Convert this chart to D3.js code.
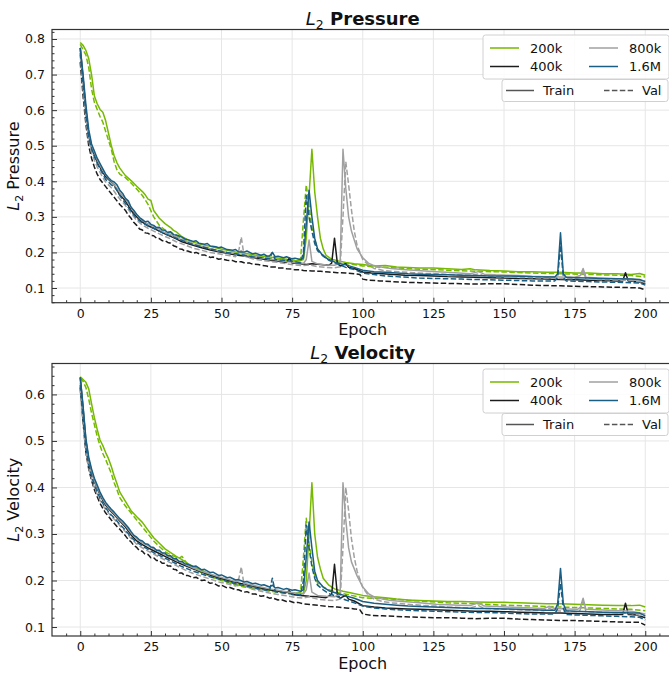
<!DOCTYPE html>
<html><head><meta charset="utf-8">
<script src="https://cdn.jsdelivr.net/npm/d3@7/dist/d3.min.js"></script>
<style>body{margin:0;background:#fff}svg{display:block;font-family:"DejaVu Sans",sans-serif}</style>
</head><body><svg id="c" width="669" height="675"></svg>
<script>
// ---------- DATA (epoch, value) ----------
const sizes = ["200k","400k","800k","1.6M"];
const splits = ["Train","Val"];
const xTicks = [0,25,50,75,100,125,150,175,200];
const pTicks = [0.1,0.2,0.3,0.4,0.5,0.6,0.7,0.8];
const vTicks = [0.1,0.2,0.3,0.4,0.5,0.6];

const p200kTrain = [[0,0.79],[1,0.782],[2,0.768],[3,0.745],[4,0.70],[5,0.64],[6,0.618],[7,0.602],[8,0.594],[9,0.57],[10,0.535],[11,0.50],[12,0.472],[13,0.452],[14,0.437],[16,0.416],[18,0.402],[20,0.386],[22,0.371],[23,0.362],[24,0.35],[25,0.346],[26,0.318],[28,0.296],[30,0.281],[32,0.27],[33,0.262],[34,0.258],[36,0.244],[38,0.236],[40,0.229],[43,0.222],[46,0.217],[49,0.211],[52,0.206],[55,0.201],[58,0.198],[61,0.194],[64,0.19],[67,0.187],[70,0.184],[73,0.181],[76,0.178],[78,0.177],[79,0.18],[80,0.24],[81,0.36],[82,0.49],[83,0.37],[84,0.30],[85,0.24],[86,0.21],[87,0.192],[89,0.181],[91,0.177],[94,0.172],[97,0.168],[100,0.166],[104,0.162],[108,0.163],[112,0.159],[116,0.158],[120,0.156],[125,0.156],[130,0.154],[135,0.152],[138,0.154],[140,0.151],[145,0.149],[150,0.148],[155,0.146],[160,0.146],[165,0.144],[170,0.144],[175,0.142],[180,0.142],[185,0.14],[190,0.14],[195,0.138],[198,0.141],[200,0.136]];
const p200kVal = [[0,0.785],[1,0.77],[2,0.755],[3,0.72],[4,0.66],[5,0.622],[6,0.602],[7,0.582],[8,0.566],[9,0.54],[10,0.515],[11,0.49],[12,0.455],[13,0.432],[14,0.42],[16,0.41],[18,0.395],[20,0.378],[22,0.36],[24,0.335],[26,0.30],[28,0.276],[30,0.263],[32,0.256],[34,0.248],[36,0.238],[38,0.23],[40,0.222],[43,0.215],[46,0.21],[49,0.205],[52,0.2],[55,0.196],[58,0.192],[61,0.19],[64,0.186],[67,0.183],[70,0.18],[73,0.177],[76,0.175],[78,0.182],[79,0.29],[80,0.39],[81,0.33],[82,0.27],[83,0.235],[84,0.21],[85,0.2],[87,0.185],[89,0.176],[92,0.172],[95,0.168],[100,0.162],[105,0.159],[110,0.157],[115,0.155],[120,0.153],[130,0.15],[140,0.147],[150,0.145],[160,0.142],[170,0.14],[180,0.138],[190,0.136],[195,0.135],[200,0.131]];
const p400kTrain = [[0,0.775],[1,0.69],[2,0.60],[3,0.53],[4,0.495],[5,0.475],[6,0.455],[7,0.44],[8,0.425],[9,0.413],[10,0.405],[11,0.398],[12,0.39],[13,0.375],[14,0.362],[16,0.345],[18,0.318],[20,0.30],[22,0.285],[24,0.275],[26,0.268],[28,0.26],[30,0.252],[32,0.245],[34,0.238],[36,0.23],[38,0.225],[40,0.22],[43,0.213],[46,0.207],[49,0.202],[52,0.198],[55,0.193],[58,0.19],[61,0.186],[64,0.182],[67,0.178],[70,0.175],[73,0.172],[74,0.184],[75,0.17],[78,0.168],[80,0.166],[82,0.168],[85,0.166],[88,0.164],[89,0.17],[90,0.24],[91,0.17],[92,0.162],[94,0.168],[95,0.158],[97,0.155],[100,0.145],[103,0.142],[107,0.14],[111,0.138],[115,0.136],[120,0.135],[125,0.134],[130,0.132],[135,0.131],[140,0.13],[145,0.129],[150,0.128],[155,0.127],[160,0.126],[165,0.125],[170,0.124],[175,0.123],[180,0.122],[185,0.121],[190,0.12],[192,0.12],[193,0.143],[194,0.12],[197,0.118],[200,0.112]];
const p400kVal = [[0,0.735],[1,0.64],[2,0.56],[3,0.50],[4,0.465],[5,0.44],[6,0.42],[7,0.405],[8,0.395],[9,0.385],[10,0.375],[11,0.365],[12,0.355],[13,0.345],[14,0.335],[16,0.318],[17,0.305],[18,0.296],[19,0.284],[20,0.276],[21,0.266],[22,0.263],[23,0.255],[24,0.254],[25,0.248],[26,0.247],[27,0.24],[28,0.239],[29,0.233],[30,0.233],[31,0.228],[32,0.226],[33,0.219],[34,0.216],[35,0.21],[36,0.209],[37,0.204],[38,0.204],[40,0.198],[41,0.2],[43,0.193],[44,0.193],[46,0.186],[47,0.187],[49,0.181],[50,0.182],[52,0.178],[54,0.177],[55,0.174],[57,0.174],[58,0.171],[60,0.17],[61,0.167],[63,0.166],[64,0.164],[66,0.162],[67,0.159],[69,0.159],[70,0.156],[72,0.156],[73,0.154],[75,0.153],[76,0.151],[78,0.151],[79,0.149],[82,0.148],[85,0.147],[88,0.145],[91,0.143],[94,0.142],[97,0.14],[99,0.138],[100,0.125],[102,0.122],[106,0.12],[110,0.118],[115,0.116],[120,0.115],[125,0.114],[130,0.113],[135,0.112],[140,0.111],[145,0.112],[150,0.112],[155,0.11],[160,0.108],[165,0.107],[170,0.106],[175,0.105],[180,0.104],[185,0.103],[190,0.102],[195,0.101],[198,0.1],[200,0.095]];
const p800kTrain = [[0,0.77],[1,0.685],[2,0.60],[3,0.535],[4,0.50],[5,0.48],[6,0.46],[7,0.445],[8,0.43],[9,0.418],[10,0.408],[11,0.40],[12,0.39],[13,0.38],[14,0.368],[16,0.35],[17,0.338],[18,0.327],[19,0.315],[20,0.306],[21,0.296],[22,0.291],[23,0.284],[24,0.281],[25,0.276],[26,0.274],[27,0.268],[28,0.266],[29,0.259],[30,0.256],[31,0.253],[32,0.251],[33,0.245],[34,0.244],[35,0.238],[36,0.237],[38,0.229],[39,0.231],[40,0.223],[42,0.22],[43,0.217],[45,0.214],[46,0.21],[48,0.207],[49,0.204],[51,0.202],[52,0.199],[54,0.198],[55,0.195],[56,0.198],[57,0.205],[58,0.192],[60,0.19],[61,0.187],[63,0.187],[64,0.184],[66,0.183],[67,0.18],[69,0.18],[70,0.177],[72,0.176],[73,0.174],[75,0.173],[76,0.171],[78,0.171],[79,0.169],[80,0.18],[81,0.235],[82,0.175],[84,0.168],[87,0.165],[90,0.164],[92,0.17],[93,0.49],[94,0.38],[95,0.30],[96,0.26],[97,0.235],[98,0.21],[100,0.185],[102,0.17],[104,0.163],[107,0.158],[110,0.155],[114,0.152],[118,0.15],[122,0.148],[126,0.146],[130,0.144],[134,0.142],[138,0.14],[141,0.146],[143,0.139],[147,0.137],[151,0.136],[155,0.135],[160,0.133],[165,0.132],[170,0.131],[175,0.13],[177,0.135],[178,0.155],[179,0.13],[183,0.128],[187,0.127],[191,0.126],[195,0.125],[200,0.12]];
const p800kVal = [[0,0.755],[1,0.66],[2,0.575],[3,0.515],[4,0.48],[5,0.46],[6,0.44],[7,0.425],[8,0.41],[9,0.398],[10,0.39],[11,0.382],[12,0.372],[13,0.36],[14,0.35],[16,0.332],[18,0.31],[20,0.29],[22,0.277],[24,0.268],[26,0.26],[28,0.252],[30,0.245],[32,0.238],[34,0.23],[36,0.224],[38,0.218],[40,0.212],[43,0.206],[46,0.2],[49,0.196],[52,0.192],[55,0.188],[56,0.2],[57,0.243],[58,0.19],[61,0.182],[64,0.178],[67,0.175],[70,0.172],[73,0.168],[76,0.165],[79,0.163],[81,0.165],[84,0.16],[87,0.158],[90,0.157],[92,0.16],[93,0.3],[94,0.455],[95,0.39],[96,0.32],[97,0.26],[98,0.22],[100,0.18],[102,0.165],[104,0.155],[107,0.15],[110,0.147],[114,0.145],[118,0.143],[122,0.141],[126,0.14],[130,0.138],[134,0.137],[138,0.135],[141,0.14],[143,0.134],[147,0.132],[151,0.131],[155,0.13],[160,0.129],[165,0.128],[170,0.127],[175,0.126],[177,0.13],[178,0.148],[179,0.126],[183,0.124],[187,0.123],[191,0.122],[195,0.121],[200,0.115]];
const p16MTrain = [[0,0.775],[1,0.70],[2,0.615],[3,0.545],[4,0.505],[5,0.485],[6,0.465],[7,0.45],[8,0.435],[9,0.42],[10,0.41],[11,0.402],[12,0.398],[13,0.39],[14,0.375],[15,0.366],[16,0.352],[17,0.345],[18,0.327],[19,0.318],[20,0.307],[21,0.298],[22,0.292],[23,0.286],[24,0.288],[25,0.279],[26,0.276],[27,0.27],[28,0.271],[29,0.263],[30,0.262],[31,0.256],[32,0.258],[33,0.25],[34,0.249],[35,0.246],[36,0.243],[37,0.238],[38,0.236],[40,0.231],[41,0.233],[42,0.226],[44,0.223],[45,0.225],[46,0.218],[48,0.216],[49,0.213],[50,0.215],[52,0.208],[54,0.206],[55,0.208],[56,0.202],[58,0.201],[59,0.204],[61,0.196],[62,0.198],[64,0.192],[65,0.195],[66,0.19],[67,0.19],[68,0.2],[69,0.188],[70,0.189],[72,0.185],[73,0.188],[75,0.182],[76,0.184],[78,0.18],[79,0.185],[80,0.28],[81,0.375],[82,0.30],[83,0.24],[84,0.21],[86,0.19],[88,0.18],[91,0.17],[94,0.165],[97,0.158],[100,0.15],[104,0.146],[108,0.144],[112,0.142],[116,0.14],[120,0.139],[125,0.138],[130,0.137],[135,0.136],[140,0.135],[145,0.134],[150,0.134],[155,0.133],[160,0.132],[165,0.131],[168,0.131],[169,0.14],[170,0.255],[171,0.14],[172,0.13],[175,0.129],[180,0.128],[185,0.127],[190,0.126],[195,0.125],[198,0.124],[200,0.118]];
const p16MVal = [[0,0.76],[1,0.675],[2,0.59],[3,0.525],[4,0.49],[5,0.47],[6,0.45],[7,0.435],[8,0.42],[9,0.405],[10,0.398],[11,0.39],[12,0.385],[13,0.375],[14,0.36],[16,0.338],[18,0.315],[20,0.295],[22,0.283],[24,0.275],[26,0.268],[28,0.26],[30,0.252],[32,0.246],[34,0.24],[36,0.234],[38,0.228],[40,0.222],[43,0.216],[46,0.21],[49,0.205],[52,0.2],[55,0.196],[58,0.192],[61,0.188],[64,0.185],[67,0.182],[68,0.2],[69,0.18],[72,0.178],[75,0.175],[78,0.172],[79,0.2],[80,0.36],[81,0.3],[82,0.26],[83,0.225],[84,0.205],[86,0.19],[88,0.178],[91,0.168],[94,0.158],[97,0.152],[100,0.142],[104,0.138],[108,0.134],[112,0.132],[116,0.13],[120,0.128],[125,0.127],[130,0.126],[135,0.125],[140,0.124],[145,0.123],[150,0.122],[155,0.121],[160,0.12],[165,0.12],[168,0.12],[169,0.13],[170,0.22],[171,0.13],[172,0.12],[175,0.119],[180,0.118],[185,0.117],[190,0.116],[195,0.115],[198,0.114],[200,0.108]];

const v200kTrain = [[0,0.638],[1,0.632],[2,0.626],[3,0.612],[4,0.58],[5,0.55],[6,0.525],[7,0.502],[8,0.49],[9,0.475],[10,0.462],[11,0.445],[12,0.425],[13,0.408],[14,0.39],[16,0.37],[18,0.35],[20,0.337],[22,0.325],[24,0.308],[26,0.292],[28,0.28],[30,0.268],[32,0.26],[34,0.252],[36,0.245],[38,0.237],[40,0.23],[43,0.222],[46,0.213],[49,0.205],[52,0.199],[55,0.192],[58,0.188],[61,0.185],[64,0.182],[67,0.179],[70,0.177],[73,0.175],[76,0.173],[79,0.172],[80,0.2],[81,0.3],[82,0.41],[83,0.3],[84,0.25],[85,0.225],[86,0.205],[88,0.19],[90,0.182],[93,0.177],[96,0.173],[100,0.168],[104,0.165],[108,0.163],[112,0.16],[116,0.158],[120,0.157],[125,0.156],[130,0.155],[135,0.155],[140,0.154],[145,0.153],[150,0.153],[155,0.152],[160,0.151],[165,0.15],[170,0.15],[175,0.149],[180,0.148],[185,0.147],[190,0.146],[195,0.146],[198,0.147],[200,0.143]];
const v200kVal = [[0,0.636],[1,0.628],[2,0.615],[3,0.59],[4,0.56],[5,0.535],[6,0.51],[7,0.49],[8,0.473],[9,0.46],[10,0.445],[11,0.43],[12,0.41],[13,0.395],[14,0.378],[16,0.36],[18,0.345],[20,0.33],[22,0.315],[24,0.3],[26,0.285],[28,0.273],[30,0.262],[32,0.255],[34,0.25],[35,0.248],[36,0.252],[37,0.243],[38,0.235],[40,0.225],[43,0.217],[46,0.209],[49,0.202],[52,0.196],[55,0.19],[58,0.186],[61,0.183],[64,0.18],[67,0.177],[70,0.175],[73,0.173],[76,0.171],[78,0.175],[79,0.25],[80,0.334],[81,0.28],[82,0.24],[83,0.21],[84,0.195],[86,0.186],[88,0.18],[90,0.176],[93,0.172],[96,0.168],[100,0.163],[110,0.16],[120,0.156],[130,0.152],[140,0.15],[150,0.147],[160,0.145],[170,0.143],[180,0.141],[190,0.139],[195,0.138],[200,0.135]];
const v400kTrain = [[0,0.636],[1,0.57],[2,0.5],[3,0.46],[4,0.435],[5,0.415],[6,0.398],[7,0.385],[8,0.372],[9,0.362],[10,0.355],[11,0.348],[12,0.342],[13,0.335],[14,0.328],[16,0.315],[18,0.298],[20,0.285],[22,0.277],[24,0.27],[26,0.264],[28,0.258],[30,0.252],[32,0.246],[34,0.24],[36,0.235],[38,0.23],[40,0.225],[43,0.218],[46,0.212],[49,0.206],[52,0.201],[55,0.196],[58,0.192],[61,0.188],[64,0.184],[67,0.18],[70,0.177],[73,0.174],[74,0.178],[75,0.17],[78,0.168],[81,0.166],[84,0.165],[87,0.163],[89,0.17],[90,0.235],[91,0.17],[92,0.162],[94,0.168],[95,0.16],[97,0.156],[100,0.146],[104,0.143],[108,0.141],[112,0.14],[116,0.139],[120,0.138],[125,0.137],[130,0.136],[135,0.135],[140,0.134],[145,0.134],[150,0.133],[155,0.132],[160,0.131],[165,0.13],[170,0.13],[175,0.129],[180,0.128],[185,0.127],[190,0.127],[192,0.127],[193,0.151],[194,0.127],[197,0.126],[200,0.12]];
const v400kVal = [[0,0.615],[1,0.54],[2,0.475],[3,0.44],[4,0.415],[5,0.395],[6,0.38],[7,0.366],[8,0.355],[9,0.345],[10,0.338],[11,0.33],[12,0.323],[13,0.316],[14,0.31],[16,0.296],[17,0.288],[18,0.283],[19,0.275],[20,0.271],[21,0.264],[22,0.263],[23,0.256],[24,0.256],[25,0.249],[26,0.249],[27,0.243],[28,0.243],[29,0.237],[30,0.237],[31,0.231],[32,0.231],[33,0.224],[34,0.223],[35,0.216],[36,0.216],[37,0.211],[38,0.211],[40,0.206],[41,0.207],[43,0.2],[44,0.201],[46,0.194],[47,0.195],[49,0.188],[50,0.19],[52,0.184],[53,0.185],[55,0.18],[56,0.18],[58,0.175],[59,0.176],[61,0.171],[62,0.171],[64,0.166],[65,0.167],[67,0.162],[68,0.163],[70,0.158],[71,0.159],[73,0.155],[74,0.156],[76,0.152],[77,0.153],[79,0.15],[82,0.148],[85,0.146],[88,0.144],[91,0.143],[94,0.141],[97,0.139],[99,0.137],[100,0.128],[103,0.125],[107,0.124],[111,0.123],[115,0.122],[120,0.121],[125,0.12],[130,0.12],[135,0.119],[140,0.118],[145,0.119],[150,0.119],[155,0.117],[160,0.116],[165,0.115],[170,0.114],[175,0.114],[180,0.113],[185,0.112],[190,0.111],[195,0.11],[198,0.11],[200,0.104]];
const v800kTrain = [[0,0.625],[1,0.56],[2,0.495],[3,0.458],[4,0.435],[5,0.415],[6,0.4],[7,0.387],[8,0.375],[9,0.365],[10,0.357],[11,0.35],[12,0.344],[13,0.337],[14,0.33],[16,0.318],[18,0.302],[20,0.29],[22,0.281],[24,0.275],[26,0.268],[28,0.262],[30,0.256],[32,0.25],[34,0.244],[36,0.238],[38,0.232],[40,0.227],[43,0.22],[46,0.214],[49,0.208],[52,0.203],[55,0.198],[57,0.2],[58,0.194],[61,0.19],[64,0.186],[67,0.182],[70,0.179],[73,0.176],[76,0.173],[79,0.171],[80,0.18],[81,0.216],[82,0.175],[84,0.168],[87,0.166],[90,0.165],[92,0.17],[93,0.41],[94,0.33],[95,0.27],[96,0.24],[97,0.225],[98,0.21],[100,0.186],[102,0.172],[104,0.165],[107,0.16],[110,0.157],[114,0.155],[118,0.153],[122,0.151],[126,0.149],[130,0.148],[134,0.147],[138,0.146],[141,0.152],[143,0.145],[147,0.144],[151,0.143],[155,0.142],[160,0.141],[164,0.14],[166,0.144],[168,0.14],[172,0.139],[176,0.138],[177,0.142],[178,0.162],[179,0.138],[183,0.137],[187,0.136],[191,0.135],[195,0.134],[200,0.128]];
const v800kVal = [[0,0.61],[1,0.54],[2,0.478],[3,0.442],[4,0.42],[5,0.4],[6,0.386],[7,0.373],[8,0.362],[9,0.352],[10,0.345],[11,0.338],[12,0.332],[13,0.325],[14,0.318],[16,0.305],[18,0.29],[20,0.278],[22,0.27],[24,0.263],[26,0.257],[28,0.25],[30,0.244],[32,0.238],[34,0.232],[36,0.226],[38,0.22],[40,0.215],[43,0.209],[46,0.203],[49,0.197],[52,0.193],[55,0.188],[56,0.2],[57,0.229],[58,0.19],[61,0.181],[64,0.177],[67,0.173],[70,0.17],[73,0.167],[76,0.164],[79,0.162],[81,0.165],[84,0.16],[87,0.158],[90,0.157],[92,0.16],[93,0.27],[94,0.40],[95,0.35],[96,0.29],[97,0.25],[98,0.22],[100,0.185],[102,0.168],[104,0.16],[107,0.155],[110,0.152],[114,0.15],[118,0.148],[122,0.146],[126,0.145],[130,0.143],[134,0.142],[138,0.141],[141,0.146],[143,0.14],[147,0.139],[151,0.138],[155,0.137],[160,0.136],[164,0.135],[166,0.14],[168,0.135],[172,0.134],[176,0.133],[177,0.137],[178,0.155],[179,0.133],[183,0.132],[187,0.131],[191,0.13],[195,0.129],[200,0.123]];
const v16MTrain = [[0,0.637],[1,0.575],[2,0.505],[3,0.465],[4,0.44],[5,0.42],[6,0.405],[7,0.39],[8,0.378],[9,0.368],[10,0.36],[11,0.353],[12,0.347],[13,0.34],[14,0.333],[15,0.328],[16,0.321],[17,0.314],[18,0.305],[19,0.297],[20,0.293],[21,0.287],[22,0.285],[23,0.279],[24,0.278],[25,0.272],[26,0.271],[27,0.265],[28,0.265],[29,0.259],[30,0.259],[31,0.253],[32,0.253],[33,0.247],[34,0.247],[35,0.241],[36,0.241],[37,0.236],[38,0.235],[40,0.23],[41,0.231],[43,0.223],[44,0.224],[46,0.217],[47,0.218],[49,0.211],[50,0.212],[52,0.206],[53,0.207],[55,0.201],[56,0.202],[58,0.197],[59,0.198],[61,0.193],[62,0.194],[64,0.19],[65,0.191],[67,0.186],[68,0.19],[69,0.184],[70,0.185],[72,0.181],[73,0.183],[75,0.179],[76,0.18],[78,0.177],[79,0.18],[80,0.25],[81,0.326],[82,0.27],[83,0.22],[84,0.2],[86,0.186],[88,0.178],[91,0.172],[94,0.167],[97,0.162],[100,0.155],[104,0.151],[108,0.149],[112,0.147],[116,0.145],[120,0.144],[125,0.143],[130,0.142],[135,0.141],[140,0.14],[145,0.14],[150,0.139],[155,0.138],[160,0.137],[165,0.136],[168,0.136],[169,0.15],[170,0.226],[171,0.15],[172,0.135],[175,0.134],[180,0.133],[185,0.132],[190,0.131],[195,0.13],[198,0.13],[200,0.124]];
const v16MVal = [[0,0.62],[1,0.55],[2,0.485],[3,0.45],[4,0.425],[5,0.405],[6,0.39],[7,0.377],[8,0.366],[9,0.356],[10,0.348],[11,0.341],[12,0.335],[13,0.328],[14,0.321],[16,0.308],[18,0.293],[20,0.282],[22,0.274],[24,0.267],[26,0.26],[28,0.254],[30,0.248],[32,0.242],[34,0.236],[36,0.23],[38,0.225],[40,0.22],[43,0.214],[46,0.208],[49,0.203],[52,0.198],[55,0.193],[58,0.189],[61,0.185],[64,0.181],[67,0.178],[68,0.205],[69,0.176],[72,0.173],[75,0.171],[78,0.169],[79,0.2],[80,0.319],[81,0.27],[82,0.23],[83,0.205],[84,0.19],[86,0.18],[88,0.172],[91,0.165],[94,0.158],[97,0.152],[100,0.145],[104,0.141],[108,0.139],[112,0.137],[116,0.136],[120,0.135],[125,0.134],[130,0.133],[135,0.132],[140,0.131],[145,0.131],[150,0.13],[155,0.129],[160,0.128],[165,0.128],[168,0.128],[169,0.14],[170,0.194],[171,0.14],[172,0.127],[175,0.126],[180,0.125],[185,0.124],[190,0.123],[195,0.122],[198,0.121],[200,0.115]];

// ---------- STYLE ----------
const colors = {"200k":"#76b900","400k":"#1c1c1c","800k":"#a0a0a0","1.6M":"#1b5e83"};
const svg = d3.select("#c");
const FONT = "DejaVu Sans";

function panel(cfg){
  const {top,bottom,yDomain,yTicks,series,title,ylabel,id} = cfg;
  const left = 52, right = 673.5;
  const x = d3.scaleLinear().domain([-10,210]).range([left,right]);
  const y = d3.scaleLinear().domain(yDomain).range([bottom,top]);
  const g = svg.append("g");
  g.append("clipPath").attr("id",id).append("rect")
    .attr("x",left).attr("y",top).attr("width",right-left).attr("height",bottom-top);
  const grid = g.append("g").attr("stroke","#e6e6e6").attr("stroke-width",1);
  xTicks.forEach(t=>grid.append("line").attr("x1",x(t)).attr("x2",x(t)).attr("y1",top).attr("y2",bottom));
  yTicks.forEach(t=>grid.append("line").attr("x1",left).attr("x2",right).attr("y1",y(t)).attr("y2",y(t)));
  const line = d3.line().x(d=>x(d[0])).y(d=>y(d[1]));
  const lg = g.append("g").attr("clip-path",`url(#${id})`);
  series.forEach(s=>{
    lg.append("path").datum(s.data).attr("d",line).attr("fill","none")
      .attr("stroke",colors[s.size]).attr("stroke-width",1.5)
      .attr("stroke-linejoin","round")
      .attr("stroke-dasharray",s.split==="Val"?"5.5,2.4":null);
  });
  const xAxis = d3.axisBottom(x).tickValues(xTicks).tickSize(-5).tickPadding(6.5).tickFormat(d3.format("d"));
  const xMinor = d3.axisBottom(x).tickValues(d3.range(-5,210,5).filter(v=>v%25!==0)).tickSize(-2.5).tickFormat("");
  const yAxis = d3.axisLeft(y).tickValues(yTicks).tickSize(-5).tickPadding(7).tickFormat(d3.format(".1f"));
  const yMin = [];
  for(let v=Math.ceil(yDomain[0]*50);v<=Math.floor(yDomain[1]*50);v++){ if(v%5!==0) yMin.push(v/50); }
  const yMinor = d3.axisLeft(y).tickValues(yMin).tickSize(-2.5).tickFormat("");
  [[xAxis,`translate(0,${bottom})`],[xMinor,`translate(0,${bottom})`],[yAxis,`translate(${left},0)`],[yMinor,`translate(${left},0)`]].forEach(([a,t])=>{
    const ax = g.append("g").attr("transform",t).call(a);
    ax.select(".domain").remove();
    ax.selectAll("line").attr("stroke","#333").attr("stroke-width",1);
    ax.selectAll("text").attr("font-family",FONT).attr("font-size",12.5).attr("fill","#111");
  });
  g.append("rect").attr("x",left).attr("y",top).attr("width",right-left).attr("height",bottom-top)
    .attr("fill","none").attr("stroke","#333").attr("stroke-width",1.2);
  g.append("text").attr("x",(left+right)/2).attr("y",bottom+32.5).attr("text-anchor","middle")
    .attr("font-family",FONT).attr("font-size",16).attr("fill","#111").text("Epoch");
  const yl = g.append("text").attr("transform",`translate(19,${(top+bottom)/2}) rotate(-90)`)
    .attr("text-anchor","middle").attr("font-family",FONT).attr("font-size",16).attr("fill","#111");
  yl.append("tspan").attr("font-style","italic").text("L");
  yl.append("tspan").attr("font-size",11).attr("dy",4).text("2");
  yl.append("tspan").attr("dy",-4).text(" "+ylabel);
  const tt = g.append("text").attr("x",(left+right)/2).attr("y",top-5).attr("text-anchor","middle")
    .attr("font-family",FONT).attr("font-size",18).attr("fill","#111");
  tt.append("tspan").attr("font-style","italic").text("L");
  tt.append("tspan").attr("font-size",12.5).attr("dy",4).text("2");
  tt.append("tspan").attr("dy",-4).attr("font-weight","bold").text(" "+title);
  const L = g.append("g");
  const b1 = {x:483,y:top+5.5,w:186,h:44};
  L.append("rect").attr("x",b1.x).attr("y",b1.y).attr("width",b1.w).attr("height",b1.h).attr("rx",2.5)
    .attr("fill","#fff").attr("fill-opacity",0.85).attr("stroke","#d0d0d0");
  const b2 = {x:502,y:top+50,w:166,h:22};
  L.append("rect").attr("x",b2.x).attr("y",b2.y).attr("width",b2.w).attr("height",b2.h).attr("rx",2.5)
    .attr("fill","#fff").attr("fill-opacity",0.85).attr("stroke","#d0d0d0");
  const pos = [[490,top+18.5],[490,top+37],[589,top+18.5],[589,top+37]];
  ["200k","400k","800k","1.6M"].forEach((s,i)=>{
    const [px,py]=pos[i];
    L.append("line").attr("x1",px).attr("x2",px+29).attr("y1",py).attr("y2",py)
      .attr("stroke",colors[s]).attr("stroke-width",1.5);
    L.append("text").attr("x",px+40).attr("y",py+4.5).attr("font-family",FONT).attr("font-size",13).attr("fill","#111").text(s);
  });
  const ly = top+61;
  L.append("line").attr("x1",506).attr("x2",534).attr("y1",ly).attr("y2",ly).attr("stroke","#555").attr("stroke-width",1.5);
  L.append("text").attr("x",543).attr("y",ly+4.5).attr("font-family",FONT).attr("font-size",13).attr("fill","#111").text("Train");
  L.append("line").attr("x1",604).attr("x2",633).attr("y1",ly).attr("y2",ly).attr("stroke","#555").attr("stroke-width",1.5).attr("stroke-dasharray","5.5,2.4");
  L.append("text").attr("x",642).attr("y",ly+4.5).attr("font-family",FONT).attr("font-size",13).attr("fill","#111").text("Val");
}

const pSeries = [
  {size:"200k",split:"Train",data:p200kTrain},{size:"200k",split:"Val",data:p200kVal},
  {size:"400k",split:"Train",data:p400kTrain},{size:"400k",split:"Val",data:p400kVal},
  {size:"800k",split:"Train",data:p800kTrain},{size:"800k",split:"Val",data:p800kVal},
  {size:"1.6M",split:"Train",data:p16MTrain},{size:"1.6M",split:"Val",data:p16MVal}];
const vSeries = [
  {size:"200k",split:"Train",data:v200kTrain},{size:"200k",split:"Val",data:v200kVal},
  {size:"400k",split:"Train",data:v400kTrain},{size:"400k",split:"Val",data:v400kVal},
  {size:"800k",split:"Train",data:v800kTrain},{size:"800k",split:"Val",data:v800kVal},
  {size:"1.6M",split:"Train",data:v16MTrain},{size:"1.6M",split:"Val",data:v16MVal}];

panel({id:"cp1",top:29.5,bottom:302.7,yDomain:[0.0587,0.8267],yTicks:pTicks,series:pSeries,title:"Pressure",ylabel:"Pressure"});
panel({id:"cp2",top:363.5,bottom:636,yDomain:[0.0807,0.6665],yTicks:vTicks,series:vSeries,title:"Velocity",ylabel:"Velocity"});
</script></body></html>
